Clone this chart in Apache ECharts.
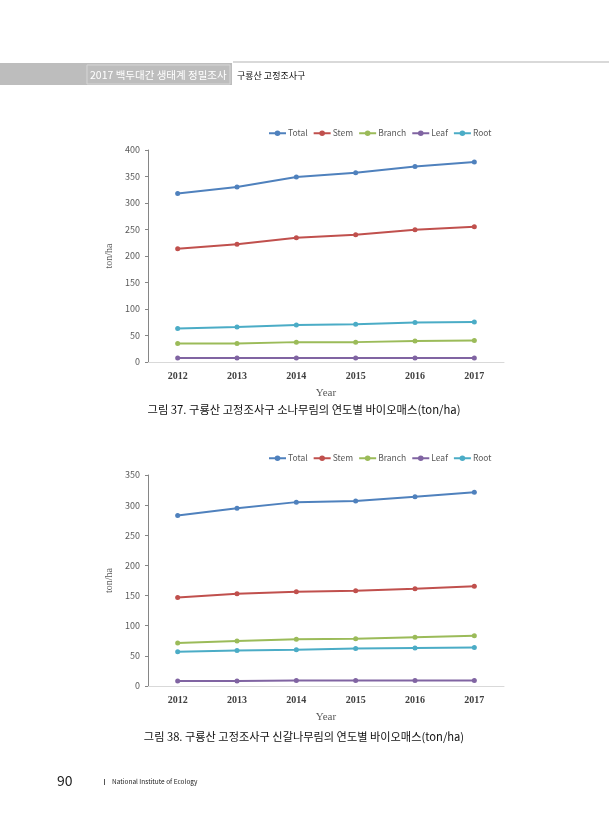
<!DOCTYPE html>
<html>
<head>
<meta charset="utf-8">
<script src="https://cdn.jsdelivr.net/npm/echarts@6/dist/echarts.min.js"></script>
<style>
html,body{margin:0;padding:0;background:#fff;}
#c{width:609px;height:840px;}
</style>
</head>
<body>
<div id="c"></div>
<script>
const years = ['2012', '2013', '2014', '2015', '2016', '2017'];
const seriesNames = ['Total', 'Stem', 'Branch', 'Leaf', 'Root'];

// Figure 37: pine forest
const pineTotal = [318, 330, 349, 357, 369, 377.5];
const pineStem = [213.5, 222, 234.5, 240, 249.5, 255];
const pineBranch = [35, 35, 37.5, 37.5, 39.5, 40.5];
const pineLeaf = [7.5, 7.5, 7.5, 7.5, 7.5, 7.5];
const pineRoot = [63, 66, 70, 71, 74.5, 75.5];

// Figure 38: fir forest
const firTotal = [283, 295, 305, 307, 314, 321.5];
const firStem = [147, 153, 156.5, 158, 161.5, 165.5];
const firBranch = [71.5, 74.5, 77.5, 78.5, 81, 83.5];
const firLeaf = [8.3, 8.3, 9.3, 9.3, 9.3, 9.3];
const firRoot = [57, 59, 60, 62, 63, 64];

const yTicks1 = [0, 400, 50];
const yTicks2 = [0, 350, 50];

const headerLeft = '2017 백두대간 생태계 정밀조사';
const headerRight = '구룡산 고정조사구';
const caption1 = '그림 37. 구룡산 고정조사구 소나무림의 연도별 바이오매스(ton/ha)';
const caption2 = '그림 38. 구룡산 고정조사구 신갈나무림의 연도별 바이오매스(ton/ha)';
const pageNo = '90';
const footerText = 'National Institute of Ecology';

const colors = ['#4F81BD', '#C0504D', '#9BBB59', '#8064A2', '#4BACC6'];
const sans = '"Noto Sans CJK KR", "Noto Sans", sans-serif';
const serif = '"Liberation Serif", "DejaVu Serif", serif';

const chart = echarts.init(document.getElementById('c'), null, {renderer: 'canvas'});

function xAxis(gi) {
  return {
    type: 'category', gridIndex: gi, data: years, boundaryGap: true,
    name: 'Year', nameLocation: 'middle', nameGap: 26,
    nameTextStyle: {fontFamily: serif, fontSize: 11, color: '#595959'},
    axisLine: {lineStyle: {color: '#d9d9d9', width: 1}},
    axisTick: {show: false},
    axisLabel: {fontFamily: serif, fontSize: 10, color: '#404040', margin: 9, fontWeight: 'bold'},
    splitLine: {show: false}
  };
}
function yAxis(gi, t) {
  return {
    type: 'value', gridIndex: gi, min: t[0], max: t[1], interval: t[2],
    name: 'ton/ha', nameLocation: 'middle', nameGap: 29, nameRotate: 90,
    nameTextStyle: {fontFamily: serif, fontSize: 10, color: '#595959'},
    axisLine: {show: true, lineStyle: {color: '#868686', width: 1}},
    axisTick: {show: true, length: 3, lineStyle: {color: '#868686'}},
    axisLabel: {fontFamily: sans, fontSize: 9, color: '#595959', margin: 8},
    splitLine: {show: false}
  };
}
function mk(name, data, idx, gi) {
  return {
    name: name, type: 'line', data: data, xAxisIndex: gi, yAxisIndex: gi,
    symbol: 'circle', symbolSize: 5, showSymbol: true,
    lineStyle: {width: 2, color: colors[idx]},
    itemStyle: {color: colors[idx]},
    emphasis: {disabled: true}, animation: false
  };
}
function legend(top) {
  return {
    data: seriesNames, left: 268, top: top, itemWidth: 17, itemHeight: 7, itemGap: 5,
    textStyle: {fontFamily: sans, fontSize: 8.5, color: '#595959', padding: [0, 0, 0, -3]},
    padding: 0
  };
}

const pine = [pineTotal, pineStem, pineBranch, pineLeaf, pineRoot];
const fir = [firTotal, firStem, firBranch, firLeaf, firRoot];

const series = [];
pine.forEach((d, i) => series.push(mk(seriesNames[i], d, i, 0)));
fir.forEach((d, i) => series.push(mk(seriesNames[i], d, i, 1)));

chart.setOption({
  animation: false,
  backgroundColor: '#ffffff',
  grid: [
    {left: 148, top: 150, width: 356, height: 212},
    {left: 148, top: 475, width: 356, height: 211}
  ],
  legend: [legend(129), legend(454)],
  xAxis: [xAxis(0), xAxis(1)],
  yAxis: [yAxis(0, yTicks1), yAxis(1, yTicks2)],
  series: series,
  graphic: [
    {type: 'rect', shape: {x: 0, y: 63, width: 232, height: 22}, style: {fill: '#bdbdbd'}},
    {type: 'rect', shape: {x: 87, y: 65, width: 143, height: 19}, style: {fill: '#bdbdbd', stroke: '#d6d6d6', lineWidth: 1}},
    {type: 'rect', shape: {x: 233, y: 61, width: 376, height: 2}, style: {fill: '#d9d9d9'}},
    {type: 'text', x: 90, y: 75, style: {text: headerLeft, fill: '#ffffff', font: '10.5px ' + sans, textVerticalAlign: 'middle'}},
    {type: 'text', x: 237, y: 76, style: {text: headerRight, fill: '#111111', font: '9px ' + sans, textVerticalAlign: 'middle'}},
    {type: 'text', x: 304, y: 410, style: {text: caption1, fill: '#111111', font: '11.3px ' + sans, textAlign: 'center', textVerticalAlign: 'middle'}},
    {type: 'text', x: 304, y: 737, style: {text: caption2, fill: '#111111', font: '11.2px ' + sans, textAlign: 'center', textVerticalAlign: 'middle'}},
    {type: 'text', x: 57, y: 781, style: {text: pageNo, fill: '#222222', font: '14px ' + sans, textVerticalAlign: 'middle'}},
    {type: 'rect', shape: {x: 104, y: 779, width: 1, height: 6}, style: {fill: '#555555'}},
    {type: 'text', x: 112, y: 782, style: {text: footerText, fill: '#222222', font: '6.5px ' + sans, textVerticalAlign: 'middle'}}
  ]
});
</script>
</body>
</html>
